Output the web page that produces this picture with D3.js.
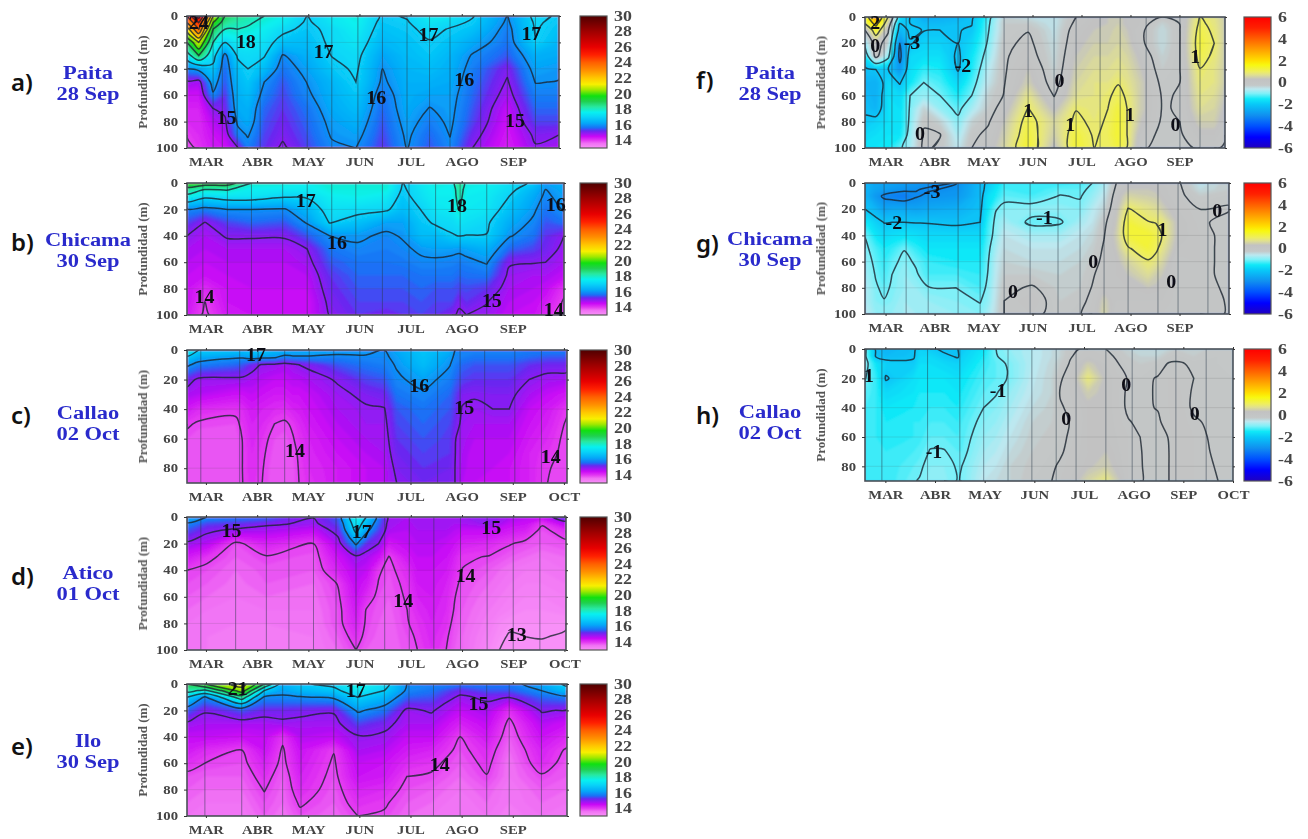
<!DOCTYPE html>
<html>
<head>
<meta charset="utf-8">
<script src="https://cdn.jsdelivr.net/npm/d3@7"></script>
<style>
  body { margin: 0; background: #fff; }
  text { font-family: "Liberation Serif", serif; font-weight: bold; }
</style>
</head>
<body>
<svg id="chart" width="1308" height="839"></svg>
<script>
var monthNames = ['MAR', 'ABR', 'MAY', 'JUN', 'JUL', 'AGO', 'SEP', 'OCT'];
var depths100 = [0, 5, 10, 20, 30, 40, 50, 60, 70, 80, 90, 100];
var depths90 = [0, 5, 10, 20, 30, 40, 50, 60, 70, 80, 90];

var tempStops = [13, 13.6, 14, 14.5, 15.2, 15.6, 16.2, 17, 17.6, 18.3, 19, 19.7, 20.5, 21.2, 22, 23, 24, 25, 26, 28, 30];
var tempColors = ['#f890f8', '#f070f4', '#e338f2', '#c808f6', '#6a28f0', '#1a70f6', '#04a8f8', '#08d4f8', '#08f0f0', '#28e8a0', '#20d050', '#10e010', '#a0e800', '#f8f000', '#ffc800', '#ff9000', '#ff6000', '#ff2000', '#e80000', '#a00000', '#500000'];
var anomStops = [-6, -5, -4, -3, -2, -1.5, -1, -0.6, -0.25, 0.3, 0.7, 1, 1.6, 2, 3, 4, 5, 6];
var anomColors = ['#2000c0', '#0000ff', '#0050ff', '#1090f0', '#08c8f8', '#10e8f8', '#80f0f8', '#bce8f0', '#c4c8c8', '#c2c2c2', '#e0e090', '#eeee60', '#f8f810', '#ffe000', '#ffa000', '#ff6000', '#ff2000', '#ff0000'];
var tempTicks = [14, 16, 18, 20, 22, 24, 26, 28, 30];
var anomTicks = [-6, -4, -2, 0, 2, 4, 6];

// sampling times, in months after the MAR tick, and profile at each time
var paitaTempTimes = [-0.37, -0.14, 0.14, 0.37, 0.62, 0.82, 1.14, 1.5, 1.98, 2.46, 2.93, 3.45, 3.93, 4.37, 4.77, 5.21, 5.89, 6.44, 6.9];
var paitaTemp = [
  [24, 23, 21.5, 19, 17.5, 16, 14.9, 14.5, 14.3, 14.2, 14.05, 13.8],
  [26.5, 25, 24, 21, 19, 16.2, 14.8, 14.5, 14.3, 14.2, 14.2, 14.1],
  [21, 20, 19, 18, 17.3, 16.8, 16.3, 15.9, 15, 14.7, 14.5, 14.4],
  [19, 18.5, 18, 17, 15.8, 15.6, 15.5, 15.3, 15.15, 14.9, 14.7, 14.5],
  [18.5, 18.2, 18, 17.5, 17.1, 16.7, 16.5, 16.4, 16.3, 16.1, 15.8, 14.95],
  [18.3, 18.1, 17.9, 17.5, 17.2, 17, 16.8, 16.6, 16.4, 16.3, 16.05, 15.8],
  [18, 17.8, 17.6, 17.3, 17.05, 16.6, 16, 15.8, 15.6, 15.5, 15.4, 15.3],
  [17.7, 17.5, 17.2, 16.7, 15.95, 15.7, 15.5, 15.4, 15.3, 15.2, 15.1, 14.9],
  [17, 16.9, 16.8, 16.6, 16.4, 16.2, 16.02, 15.9, 15.7, 15.6, 15.5, 15.4],
  [17.5, 17.4, 17.2, 17.15, 17.02, 16.8, 16.5, 16.4, 16.3, 16.15, 16.05, 15.9],
  [17.8, 17.7, 17.6, 17.4, 17.2, 17.1, 17, 16.8, 16.6, 16.4, 16.2, 16],
  [16.9, 16.8, 16.7, 16.5, 16.2, 16, 15.9, 15.7, 15.6, 15.5, 15.4, 15.3],
  [17.05, 16.95, 16.85, 16.7, 16.6, 16.5, 16.4, 16.35, 16.3, 16.2, 16.1, 16.02],
  [17.6, 17.4, 17.2, 16.95, 16.8, 16.6, 16.4, 16.2, 15.98, 15.8, 15.6, 15.5],
  [17.5, 17.2, 16.95, 16.7, 16.5, 16.4, 16.3, 16.2, 16.15, 16.1, 16.02, 15.9],
  [17.05, 16.9, 16.7, 16.3, 15.95, 15.8, 15.7, 15.6, 15.5, 15.4, 15.2, 15],
  [16, 15.9, 15.8, 15.7, 15.5, 15.1, 14.95, 14.8, 14.6, 14.5, 14.4, 14.3],
  [17.2, 17.1, 17.05, 16.97, 16.4, 16.2, 16.02, 15.8, 15.6, 15.4, 15.1, 14.95],
  [16.9, 16.8, 16.7, 16.5, 16.3, 16.1, 15.98, 15.8, 15.6, 15.4, 15, 14.8]
];

var chicamaTempTimes = [-0.37, -0.02, 0.42, 0.9, 1.54, 1.98, 2.42, 2.97, 3.53, 3.85, 4.21, 4.49, 4.81, 4.95, 5.09, 5.49, 5.93, 6.4, 6.64, 7];
var chicamaTemp = [
  [20, 18.4, 17.8, 15.9, 15.4, 15, 14.8, 14.7, 14.6, 14.5, 14.5, 14.4],
  [19.5, 18, 17.2, 15.8, 14.98, 14.8, 14.7, 14.6, 14.5, 14.2, 14, 13.9],
  [19.5, 18.05, 17.4, 16, 15.4, 15.05, 14.8, 14.7, 14.6, 14.5, 14.5, 14.4],
  [18, 17.6, 17.4, 16, 15.6, 15.05, 14.8, 14.7, 14.6, 14.6, 14.5, 14.5],
  [17.9, 17.5, 17.1, 15.95, 15.5, 15.05, 14.8, 14.7, 14.6, 14.6, 14.5, 14.5],
  [17.7, 17.5, 17.1, 16.5, 16.05, 15.5, 15, 14.85, 14.7, 14.6, 14.5, 14.5],
  [17.9, 17.8, 17.6, 17.3, 17.03, 16, 15.7, 15.5, 15.3, 15.2, 15.1, 15.02],
  [17.9, 17.8, 17.7, 17.2, 16.7, 16.1, 15.9, 15.7, 15.6, 15.5, 15.4, 15.3],
  [17.9, 17.8, 17.5, 17.1, 16.2, 15.9, 15.8, 15.7, 15.6, 15.5, 15.4, 15.2],
  [17, 16.9, 16.8, 16.6, 16.2, 16.05, 15.9, 15.75, 15.6, 15.5, 15.4, 15.3],
  [17.5, 17.4, 17.3, 17.02, 16.8, 16.6, 16.1, 15.9, 15.7, 15.6, 15.5, 15.4],
  [17.8, 17.7, 17.6, 17.4, 17.1, 16.6, 16.2, 15.9, 15.7, 15.5, 15.4, 15.3],
  [17.7, 17.6, 17.6, 17.5, 17.2, 16.95, 16.15, 15.85, 15.7, 15.5, 15.4, 15.1],
  [18.6, 18.4, 18.3, 18.05, 17.4, 17.02, 16.1, 15.8, 15.6, 15.4, 15.1, 14.9],
  [17.8, 17.7, 17.6, 17.5, 17.3, 16.98, 16.2, 15.85, 15.65, 15.45, 15.3, 15],
  [17.7, 17.6, 17.5, 17.4, 17.1, 16.98, 16.4, 16.05, 15.7, 15.3, 15.02, 14.9],
  [17.3, 17.2, 17, 16.7, 16.35, 16.05, 15.6, 15.05, 14.9, 14.8, 14.7, 14.6],
  [16.9, 16.5, 16.3, 16.1, 15.9, 15.7, 15.4, 15.02, 14.8, 14.7, 14.6, 14.5],
  [16.2, 16, 15.9, 15.7, 15.5, 15.3, 15.2, 15, 14.8, 14.6, 14.4, 14.2],
  [16.4, 16.3, 16.2, 16.05, 15.7, 15, 14.9, 14.8, 14.6, 14.1, 13.95, 13.9]
];

var callaoTempTimes = [-0.37, -0.14, 0.58, 0.72, 0.9, 1.1, 1.34, 1.54, 1.7, 1.82, 2.02, 2.58, 3.13, 3.49, 3.73, 4.25, 4.77, 4.87, 5.01, 5.25, 5.61, 5.93, 6.32, 6.68, 7.06];
var callaoTemp = [
  [18, 16.8, 16.1, 15.2, 14.8, 14.4, 14.05, 13.9, 13.8, 13.8, 13.8],
  [17, 16.3, 15.8, 14.9, 14.7, 14.2, 13.95, 13.8, 13.8, 13.8, 13.8],
  [16.8, 16.05, 15.6, 14.9, 14.5, 14.1, 13.9, 13.8, 13.8, 13.8, 13.8],
  [16.7, 16.05, 15.5, 14.9, 14.5, 14.2, 14.1, 14.02, 14.01, 14.01, 14],
  [16.9, 16.2, 15.2, 14.8, 14.6, 14.4, 14.3, 14.25, 14.2, 14.2, 14.15],
  [17, 16.1, 14.95, 14.7, 14.5, 14.3, 14.2, 14.1, 14.05, 14.02, 14],
  [16.6, 16.05, 14.9, 14.6, 14.4, 14.2, 14, 13.9, 13.85, 13.8, 13.8],
  [16.5, 15.8, 14.8, 14.6, 14.4, 14.15, 13.95, 13.85, 13.8, 13.8, 13.8],
  [16.4, 15.9, 14.9, 14.7, 14.5, 14.3, 14.05, 13.98, 13.9, 13.85, 13.85],
  [16.4, 15.9, 15, 14.7, 14.5, 14.35, 14.2, 14.1, 14.05, 14.02, 14],
  [16.4, 15.9, 15.1, 14.8, 14.6, 14.5, 14.4, 14.3, 14.25, 14.2, 14.15],
  [16.3, 15.8, 15.5, 15.05, 14.9, 14.8, 14.7, 14.6, 14.5, 14.4, 14.4],
  [16.2, 15.9, 15.7, 15.4, 15.1, 14.95, 14.9, 14.8, 14.7, 14.6, 14.6],
  [16, 15.9, 15.8, 15.5, 15.2, 14.98, 14.9, 14.85, 14.8, 14.7, 14.7],
  [16.3, 16.15, 16.05, 15.9, 15.7, 15.5, 15.4, 15.3, 15.2, 15.1, 15],
  [16.8, 16.7, 16.6, 16.2, 15.9, 15.7, 15.6, 15.5, 15.4, 15.3, 15.2],
  [16.4, 16.15, 16.02, 15.8, 15.6, 15.5, 15.4, 15.35, 15.3, 15.2, 15.1],
  [16, 15.9, 15.8, 15.6, 15.4, 15.3, 15.2, 15.02, 15.01, 15, 15],
  [15.9, 15.8, 15.6, 15.4, 15.1, 14.97, 14.9, 14.85, 14.8, 14.75, 14.7],
  [15.9, 15.7, 15.5, 15.3, 15.05, 14.9, 14.8, 14.7, 14.6, 14.6, 14.6],
  [15.9, 15.7, 15.5, 15.3, 15.1, 15, 14.8, 14.7, 14.6, 14.6, 14.5],
  [15.9, 15.7, 15.5, 15.3, 15.1, 15, 14.8, 14.7, 14.6, 14.5, 14.5],
  [15.8, 15.6, 15.3, 15, 14.8, 14.6, 14.5, 14.4, 14.3, 14.3, 14.3],
  [15.8, 15.5, 15.2, 14.85, 14.6, 14.4, 14.3, 14.2, 14.1, 14.02, 14],
  [15.8, 15.5, 15.2, 14.8, 14.4, 14.05, 13.95, 13.9, 13.9, 13.9, 13.9]
];

var aticoTempTimes = [-0.37, 0.02, 0.58, 1.18, 2.1, 2.58, 2.93, 3.13, 3.37, 3.57, 3.93, 4.13, 4.41, 4.69, 4.85, 5.01, 5.53, 5.73, 5.93, 6.24, 6.56, 7.03];
var aticoTemp = [
  [16.5, 15.9, 15.5, 14.9, 14.4, 14, 13.9, 13.8, 13.7, 13.6, 13.6, 13.5],
  [16, 15.4, 15.1, 14.7, 14.1, 13.9, 13.8, 13.7, 13.6, 13.5, 13.5, 13.5],
  [15.8, 15.3, 14.9, 13.9, 13.8, 13.7, 13.65, 13.6, 13.5, 13.5, 13.4, 13.4],
  [15.7, 15.1, 14.8, 14.3, 13.97, 13.85, 13.8, 13.7, 13.6, 13.5, 13.4, 13.4],
  [15.02, 14.9, 14.6, 14, 13.85, 13.8, 13.7, 13.65, 13.6, 13.55, 13.5, 13.5],
  [15.6, 15.4, 15.2, 14.8, 14.5, 14.3, 14.02, 13.95, 13.9, 13.9, 13.8, 13.7],
  [17.8, 17.5, 17.2, 16.1, 14.9, 14.7, 14.6, 14.5, 14.4, 14.3, 14.15, 14],
  [17, 16.6, 16.2, 15.3, 14.8, 14.6, 14.4, 14.2, 13.98, 13.95, 13.9, 13.8],
  [15.8, 15.6, 15.4, 15, 14.5, 14.05, 13.98, 13.9, 13.85, 13.8, 13.75, 13.7],
  [14.9, 14.85, 14.8, 14.4, 13.98, 13.9, 13.85, 13.8, 13.75, 13.7, 13.7, 13.7],
  [14.8, 14.75, 14.7, 14.6, 14.4, 14.2, 14.1, 14.05, 14, 13.98, 13.9, 13.85],
  [14.9, 14.85, 14.8, 14.7, 14.6, 14.5, 14.4, 14.3, 14.2, 14.1, 14.05, 14],
  [14.9, 14.85, 14.8, 14.7, 14.6, 14.5, 14.45, 14.4, 14.35, 14.3, 14.25, 14.2],
  [14.9, 14.85, 14.8, 14.6, 14.5, 14.4, 14.3, 14.25, 14.2, 14.15, 14.05, 14],
  [14.9, 14.8, 14.7, 14.5, 14.3, 14.2, 14.1, 14.02, 13.98, 13.9, 13.85, 13.8],
  [14.9, 14.8, 14.6, 14.3, 14.05, 13.99, 13.9, 13.85, 13.8, 13.75, 13.7, 13.7],
  [14.9, 14.95, 14.6, 14.2, 13.98, 13.8, 13.7, 13.6, 13.5, 13.4, 13.3, 13.2],
  [14.9, 14.8, 14.5, 14.1, 13.9, 13.7, 13.6, 13.5, 13.4, 13.2, 13.1, 13],
  [14.8, 14.6, 14.4, 14.03, 13.8, 13.6, 13.5, 13.4, 13.3, 13.1, 12.95, 12.9],
  [14.7, 14.5, 14.3, 13.9, 13.7, 13.5, 13.4, 13.3, 13.2, 13.1, 13, 12.9],
  [14.6, 14.05, 13.9, 13.8, 13.6, 13.5, 13.4, 13.3, 13.2, 13.1, 13.02, 12.9],
  [15.5, 14.7, 14.2, 13.9, 13.7, 13.6, 13.5, 13.4, 13.3, 13.05, 12.95, 12.95]
];

var iloTempTimes = [-0.37, -0.02, 0.7, 1.14, 1.5, 1.84, 2.5, 2.97, 3.49, 3.93, 4.41, 4.97, 5.49, 5.93, 6.56, 7.06];
var iloTemp = [
  [19, 18.3, 17, 15.6, 14.9, 14.6, 14.4, 14.15, 13.9, 13.8, 13.7, 13.6],
  [20, 17.8, 15.9, 15.05, 14.8, 14.6, 14.2, 14, 13.8, 13.7, 13.6, 13.5],
  [21.5, 20.5, 18.5, 15.5, 14.8, 14.5, 14, 13.9, 13.8, 13.7, 13.6, 13.5],
  [19, 17, 15.9, 15.2, 14.8, 14.6, 14.5, 14.3, 14.15, 14.02, 13.9, 13.8],
  [16.5, 16.2, 15.9, 15.2, 14.9, 14.1, 13.95, 13.9, 13.8, 13.75, 13.7, 13.6],
  [16.9, 16.5, 15.95, 15.15, 14.85, 14.7, 14.5, 14.4, 14.3, 14.2, 14.05, 13.9],
  [17.2, 16.8, 16.1, 15.05, 14.85, 14.6, 14.02, 13.95, 13.9, 13.85, 13.8, 13.7],
  [17.9, 17.5, 17, 16.1, 15.4, 14.95, 14.8, 14.6, 14.5, 14.3, 14.15, 14],
  [17.3, 17, 16.5, 15.7, 15.15, 14.9, 14.7, 14.5, 14.4, 14.2, 14.05, 13.95],
  [16, 15.9, 15.6, 14.9, 14.8, 14.6, 14.4, 14.2, 14, 13.9, 13.8, 13.7],
  [15.9, 15.7, 15.5, 15.05, 14.8, 14.6, 14.3, 14.1, 13.95, 13.8, 13.7, 13.6],
  [15.8, 15.2, 14.9, 14.6, 14.3, 14, 13.9, 13.8, 13.7, 13.6, 13.5, 13.5],
  [15.8, 15.5, 15.1, 14.8, 14.6, 14.4, 14.2, 14.1, 13.98, 13.8, 13.7, 13.6],
  [15.8, 15.5, 15.02, 14.15, 13.9, 13.8, 13.7, 13.6, 13.6, 13.5, 13.5, 13.4],
  [16.3, 16, 15.6, 15.05, 14.7, 14.5, 14.3, 14.2, 13.95, 13.8, 13.7, 13.6],
  [17.2, 16.6, 15.8, 14.95, 14.5, 14.2, 13.95, 13.85, 13.8, 13.7, 13.6, 13.5]
];

var paitaAnomTimes = [-0.42, -0.2, 0.05, 0.29, 0.5, 0.78, 1.11, 1.48, 1.76, 2.09, 2.42, 2.91, 3.44, 3.89, 4.26, 4.54, 4.75, 4.93, 5.2, 5.65, 6.01, 6.42, 6.71, 6.93];
var paitaAnom = [
  [1.5, 1, 0, -0.8, -1.5, -2.1, -2.3, -2.2, -2.1, -1.9, -1.7, -1.5],
  [3, 2.3, 1.5, 0.3, 0.2, -2, -2.4, -2.4, -2.3, -1.8, -1.6, -1.5],
  [1, 0.5, 0.1, -0.3, -0.8, -1.98, -1.7, -1.6, -1.6, -1.6, -1.5, -1.4],
  [-1.5, -2, -2.3, -3, -3.2, -2.8, -2.05, -1.7, -1.6, -1.6, -1.5, -1.1],
  [-2, -2, -1.9, -2.05, -1.7, -1.6, -1.5, -1, -0.95, -0.9, -0.8, -0.7],
  [-2.5, -2.2, -2.02, -1.8, -1.6, -1.3, -1, -0.8, -0.3, -0.05, 0.05, 0.1],
  [-2.4, -2.2, -2, -1.8, -1.6, -1.4, -1.2, -1, -0.8, -0.3, 0.03, -0.1],
  [-2.3, -2.1, -2.02, -2, -2.1, -2.05, -1.7, -1.4, -1.1, -0.9, -0.7, -0.5],
  [-2.1, -2.02, -1.95, -1.7, -1.5, -1.4, -1.2, -1, -0.7, -0.3, -0.1, 0],
  [-1.2, -1.1, -1.05, -0.95, -0.8, -0.6, -0.5, -0.3, -0.2, -0.05, 0.1, 0.2],
  [-0.3, -0.2, -0.2, -0.1, -0.05, -0.05, -0.02, 0.02, 0.2, 0.4, 0.5, 0.6],
  [-0.4, -0.2, -0.02, 0.1, 0.2, 0.4, 0.5, 0.8, 1.02, 1.2, 1.3, 1.4],
  [-0.5, -0.5, -0.45, -0.4, -0.35, -0.3, -0.2, -0.02, 0.3, 0.6, 0.5, 0.3],
  [0, 0.1, 0.2, 0.3, 0.4, 0.5, 0.6, 0.7, 0.98, 1.1, 1.3, 1.4],
  [0.3, 0.35, 0.4, 0.5, 0.6, 0.7, 0.8, 0.8, 0.85, 0.9, 0.95, 1],
  [0.4, 0.4, 0.45, 0.5, 0.6, 0.7, 0.8, 0.95, 1, 1.05, 1.1, 1.02],
  [0.5, 0.5, 0.55, 0.6, 0.7, 0.8, 0.98, 1.1, 1.3, 1.4, 1.4, 1.3],
  [0.3, 0.3, 0.4, 0.5, 0.6, 0.7, 0.8, 0.95, 1, 1, 1, 0.98],
  [0.2, 0.2, 0.1, 0.1, 0.3, 0.4, 0.5, 0.5, 0.5, 0.4, 0.2, 0.05],
  [0, -0.3, -0.4, -0.4, -0.3, -0.2, -0.1, -0.03, -0.02, -0.05, -0.1, -0.1],
  [0.02, 0.01, 0, 0, 0, 0, 0, 0.02, 0.02, 0, -0.05, -0.2],
  [1.02, 1.1, 1.2, 1.3, 1.2, 0.98, 0.9, 0.8, 0.7, 0.5, 0.3, 0.1],
  [0.8, 0.85, 0.9, 1, 0.9, 0.8, 0.8, 0.7, 0.6, 0.5, 0.3, 0.1],
  [0.5, 0.5, 0.5, 0.5, 0.5, 0.5, 0.5, 0.4, 0.3, 0.2, 0.1, -0.1]
];

var chicamaAnomTimes = [-0.42, -0.2, -0.03, 0.13, 0.38, 0.62, 0.87, 1.44, 1.93, 2.09, 2.25, 2.42, 2.99, 3.56, 3.97, 4.22, 4.46, 4.71, 4.95, 5.36, 5.52, 5.65, 5.97, 6.42, 7.01];
var chicamaAnom = [
  [-2.2, -2.3, -2.3, -2, -1.4, -1.02, -0.9, -0.8, -0.7, -0.6, -0.6, -0.5],
  [-2.6, -2.6, -2.8, -2.3, -1.8, -1.5, -1.2, -1.1, -1.03, -0.95, -0.9, -0.8],
  [-2.6, -2.7, -3.1, -2.6, -2.02, -1.7, -1.4, -1.3, -1.2, -1.1, -0.98, -0.8],
  [-2.6, -2.8, -3.2, -2.5, -2, -1.6, -1.3, -1.1, -1, -0.95, -0.9, -0.8],
  [-2.7, -2.9, -3.3, -2.5, -2, -1.5, -1.02, -0.9, -0.8, -0.8, -0.7, -0.7],
  [-2.8, -2.98, -3.05, -2.6, -2.02, -1.6, -1.3, -1.05, -0.95, -0.8, -0.75, -0.7],
  [-2.9, -3.05, -2.9, -2.5, -2.03, -1.7, -1.5, -1.3, -1.2, -0.98, -0.8, -0.7],
  [-3.02, -2.9, -2.8, -2.4, -2.1, -1.7, -1.5, -1.4, -1.2, -1, -0.9, -0.8],
  [-2.2, -2.2, -2.2, -2.1, -2, -1.7, -1.5, -1.4, -1.3, -1.2, -1.02, -0.9],
  [-1.9, -1.8, -1.6, -1.5, -1.3, -1.2, -1.1, -1.03, -0.98, -0.9, -0.85, -0.7],
  [-1.6, -1.5, -1.4, -1.02, -0.9, -0.85, -0.7, -0.6, -0.55, -0.5, -0.45, -0.4],
  [-1.3, -1.2, -1.1, -0.9, -0.7, -0.5, -0.4, -0.3, -0.2, -0.1, 0, 0],
  [-1.3, -1.3, -1.2, -0.85, -1.1, -0.7, -0.5, -0.4, -0.2, 0.05, 0.2, 0.1],
  [-1.3, -1.1, -0.98, -0.85, -1.05, -0.7, -0.5, -0.4, -0.3, -0.25, -0.2, -0.15],
  [-1.2, -1.1, -1.03, -0.9, -0.7, -0.5, -0.4, -0.3, -0.25, -0.2, -0.1, -0.02],
  [-1, -0.9, -0.8, -0.6, -0.5, -0.35, -0.25, -0.15, -0.05, 0.02, 0.1, 0.15],
  [-0.7, -0.6, -0.5, -0.3, -0.1, -0.02, 0.05, 0.1, 0.2, 0.3, 0.5, 0.6],
  [0, 0.1, 0.2, 0.3, 0.4, 0.5, 0.4, 0.3, 0.3, 0.2, 0.2, 0.1],
  [0.3, 0.4, 0.6, 1.03, 1.3, 1.3, 0.95, 0.6, 0.4, 0.3, 0.2, 0.1],
  [0.3, 0.4, 0.5, 0.8, 1.02, 1.4, 1.3, 0.95, 0.7, 0.4, 0.2, 0.1],
  [0.3, 0.35, 0.45, 0.7, 0.98, 1.2, 1.1, 0.8, 0.5, 0.35, 0.2, 0.1],
  [0.2, 0.25, 0.3, 0.5, 0.9, 0.98, 0.8, 0.6, 0.4, 0.3, 0.2, 0.1],
  [0.05, 0.1, 0.1, 0.2, 0.3, 0.3, 0.2, 0.02, 0.02, 0.05, 0.02, 0],
  [-0.5, -0.4, -0.2, 0, 0.05, 0.1, 0.1, 0.1, 0.05, 0.1, 0.1, 0.1],
  [-0.2, -0.2, -0.05, 0.02, -0.1, -0.1, -0.1, -0.1, -0.05, -0.05, -0.02, -0.02]
];

var callaoAnomTimes = [-0.41, -0.19, 0.01, 0.57, 0.69, 0.9, 1.18, 1.46, 1.54, 1.98, 2.23, 2.51, 2.95, 3.35, 3.52, 3.72, 4.08, 4.44, 4.89, 5.13, 5.33, 5.49, 5.71, 5.85, 6.21, 6.7, 7];
var callaoAnom = [
  [-0.9, -0.9, -0.8, -0.98, -1.1, -1.2, -1.2, -1.2, -1.2, -1.2, -1.2],
  [-2.1, -2.05, -1.5, -1.3, -1.3, -1.3, -1.3, -1.3, -1.3, -1.3, -1.3],
  [-2.3, -2.2, -1.8, -2.05, -1.7, -1.5, -1.4, -1.4, -1.3, -1.3, -1.3],
  [-2.1, -2.05, -1.9, -1.6, -1.5, -1.4, -1.3, -1.3, -1.2, -1.1, -1.02],
  [-1.8, -1.7, -1.6, -1.5, -1.4, -1.35, -1.3, -1.25, -1.15, -1.05, -0.98],
  [-1.9, -1.7, -1.6, -1.5, -1.4, -1.3, -1.2, -1.1, -0.98, -0.9, -0.85],
  [-2.1, -1.9, -1.7, -1.5, -1.4, -1.3, -1.2, -1.1, -0.98, -0.9, -0.85],
  [-2, -2.05, -1.8, -1.6, -1.5, -1.4, -1.3, -1.2, -1.1, -1.03, -1.02],
  [-1.9, -1.8, -1.7, -1.5, -1.4, -1.3, -1.2, -1.15, -1.1, -1, -0.98],
  [-1.5, -1.4, -1.3, -1.2, -1.1, -1, -0.9, -0.8, -0.7, -0.6, -0.5],
  [-1, -1.02, -1.1, -1.1, -1.02, -0.9, -0.8, -0.7, -0.6, -0.5, -0.4],
  [-0.8, -0.85, -0.95, -0.97, -0.8, -0.7, -0.6, -0.5, -0.4, -0.3, -0.3],
  [-0.6, -0.6, -0.6, -0.55, -0.5, -0.4, -0.3, -0.25, -0.2, -0.15, -0.1],
  [-0.4, -0.4, -0.35, -0.3, -0.3, -0.25, -0.2, -0.15, -0.1, -0.05, 0],
  [-0.3, -0.3, -0.2, -0.03, 0.02, -0.03, -0.1, -0.1, -0.05, 0.05, 0.1],
  [-0.1, -0.03, 0.03, 0.1, 0.1, 0.05, 0.01, 0.05, 0.1, 0.15, 0.2],
  [0.1, 0.2, 0.5, 0.9, 0.5, 0.3, 0.3, 0.3, 0.3, 0.35, 0.6],
  [0, 0.1, 0.2, 0.3, 0.3, 0.3, 0.3, 0.3, 0.4, 0.5, 0.9],
  [-0.3, -0.2, -0.15, -0.02, -0.05, -0.05, 0.02, 0.1, 0.1, 0.1, 0.1],
  [-0.4, -0.3, -0.2, -0.1, -0.1, -0.1, -0.05, 0, 0.02, 0.03, 0.04],
  [-0.4, -0.3, -0.15, -0.02, -0.01, -0.01, -0.05, -0.1, -0.1, -0.1, -0.1],
  [-0.4, -0.3, -0.1, 0.02, 0.02, 0.01, -0.03, -0.08, -0.1, -0.1, -0.1],
  [-0.3, -0.1, 0.02, 0.1, 0.1, 0.1, 0.08, 0.01, 0, 0, 0],
  [-0.2, -0.05, 0.02, 0.1, 0.15, 0.2, 0.2, 0.2, 0.2, 0.2, 0.2],
  [-0.3, -0.2, -0.02, 0, -0.03, -0.05, 0.05, 0.1, 0.1, 0.1, 0.1],
  [-0.1, -0.1, -0.1, -0.1, -0.1, -0.1, -0.1, -0.08, -0.05, -0.02, 0],
  [-0.2, -0.2, -0.15, -0.1, -0.1, -0.1, -0.1, -0.1, -0.1, -0.1, -0.1]
];

// vertical lines of the sampling dates
var paitaTempLines = [0.14, 0.32, 0.61, 1.06, 1.5, 1.98, 2.46, 2.97, 3.45, 3.93, 4.37, 4.77, 5.37, 5.89, 6.44];
var chicamaTempLines = [-0.06, 0.42, 0.89, 1.5, 1.98, 2.46, 2.93, 3.45, 3.97, 4.49, 4.97, 5.49, 6, 6.56];
var callaoTempLines = [-0.1, 0.66, 1.02, 1.54, 2.02, 2.5, 3.01, 3.49, 4.01, 4.53, 4.97, 5.45, 6.04, 6.56];
var aticoTempLines = [-0.1, 0.58, 1.18, 1.62, 2.1, 2.54, 2.93, 3.49, 3.97, 4.45, 4.97, 5.49, 6, 6.52];
var iloTempLines = [-0.02, 0.7, 1.14, 1.5, 1.86, 2.5, 2.97, 3.49, 3.97, 4.45, 4.97, 5.49, 5.93, 6.56];
var paitaAnomLines = [-0.03, 0.13, 0.42, 0.87, 1.48, 2.05, 2.42, 2.91, 3.44, 3.89, 4.38, 4.79, 5.32, 6.01, 6.42];
var chicamaAnomLines = [-0.03, 0.42, 0.87, 1.48, 1.93, 2.42, 2.95, 3.52, 3.97, 4.46, 4.95, 5.56, 5.97, 6.58];
var callaoAnomLines = [-0.07, 0.85, 1.5, 1.98, 2.47, 2.95, 3.44, 3.84, 4.44, 4.97, 5.45, 5.85, 6.46];

// contour labels: text, month, depth
var paitaTempLabels = [['24', -0.14, 5], ['18', 0.78, 19], ['17', 2.3, 27], ['16', 3.33, 62], ['17', 4.35, 14], ['16', 5.05, 48], ['17', 6.36, 13], ['15', 0.4, 77], ['15', 6.04, 79]];
var chicamaTempLabels = [['17', 1.95, 13], ['16', 2.56, 45], ['18', 4.91, 17], ['16', 6.84, 16], ['15', 5.59, 89], ['14', -0.03, 86], ['14', 6.8, 96]];
var callaoTempLabels = [['17', 0.98, 3], ['16', 4.17, 24], ['15', 5.05, 39], ['14', 1.74, 68], ['14', 6.74, 72]];
var aticoTempLabels = [['15', 0.5, 10], ['17', 3.04, 11], ['15', 5.57, 8], ['14', 5.07, 44], ['14', 3.85, 63], ['13', 6.07, 88]];
var iloTempLabels = [['21', 0.62, 3], ['17', 2.93, 5], ['15', 5.33, 15], ['14', 4.57, 61]];
var paitaAnomLabels = [['2', -0.21, 4], ['0', -0.21, 22], ['-3', 0.54, 19], ['-2', 1.58, 37], ['0', 3.55, 48], ['1', 2.91, 71], ['1', 3.77, 82], ['1', 4.99, 74], ['0', 0.7, 89], ['0', 5.92, 82], ['1', 6.32, 30]];
var chicamaAnomLabels = [['-3', 0.95, 6], ['-2', 0.17, 30], ['-1', 3.24, 26], ['1', 5.65, 35], ['0', 6.77, 21], ['0', 4.24, 60], ['0', 5.83, 75], ['0', 2.6, 83]];
var callaoAnomLabels = [['1', -0.33, 18], ['-1', 2.27, 28], ['0', 4.85, 24], ['0', 3.64, 47], ['0', 6.23, 44], ['-1', 0.98, 70]];

var tempColor = d3.scaleLinear().domain(tempStops).range(tempColors).clamp(true);
var anomColor = d3.scaleLinear().domain(anomStops).range(anomColors).clamp(true);

var svg = d3.select('#chart');
var defs = svg.append('defs');
defs.append('filter').attr('id', 'soft').append('feGaussianBlur').attr('stdDeviation', 1.2);
defs.append('filter').attr('id', 'softer').append('feGaussianBlur').attr('stdDeviation', 0.45);
defs.append('filter').attr('id', 'softtext').append('feGaussianBlur').attr('stdDeviation', 0.3);

var stretch = 'scale(1.28,1)';
var isoLine = d3.line().curve(d3.curveCatmullRom.alpha(0.5));

function translateSVG(x, y) {
    return 'translate(' + x + ',' + y + ')';
}

function putText(g, x, y, s, size, fill, scale) {
    return g.append('text')
        .attr('transform', translateSVG(x, y) + (scale || stretch))
        .attr('text-anchor', 'middle')
        .attr('dy', '0.35em')
        .attr('font-size', size)
        .attr('fill', fill)
        .text(s);
}

// Cut a contour ring where it runs along the plot border, the frame covers those parts
function openRuns(ring, nx, ny) {
    var onEdge = function (q) { return q[0] <= 0 || q[0] >= nx || q[1] <= 0 || q[1] >= ny; };
    var n = ring.length - 1, start = -1, k;
    for (k = 0; k < n; k++) {
        if (onEdge(ring[k]) && onEdge(ring[k + 1])) { start = k + 1; break; }
    }
    if (start < 0) {
        // no border part, keep it closed
        return [ring.concat([ring[1], ring[2]])];
    }
    var runs = [], cur = [];
    for (k = 0; k < n; k++) {
        var a = ring[(start + k) % n], b = ring[(start + k + 1) % n];
        if (onEdge(a) && onEdge(b)) {
            if (cur.length > 1) { runs.push(cur); }
            cur = [];
        } else {
            if (!cur.length) { cur.push(a); }
            cur.push(b);
        }
    }
    if (cur.length > 1) { runs.push(cur); }
    return runs;
}

function drawPanel(p, idx) {
    var g = svg.append('g').attr('transform', translateSVG(p.x0, p.y0));
    var w = p.x1 - p.x0, h = p.y1 - p.y0;
    var color = p.color;
    var x = d3.scaleLinear().domain([p.times[0], p.times[p.times.length - 1]]).range([0, w]);
    var y = d3.scaleLinear().domain([0, d3.max(p.depths)]).range([0, h]);

    var clipId = 'clip' + idx;
    defs.append('clipPath').attr('id', clipId).append('rect').attr('width', w).attr('height', h);

    // contours work in cell units, cell i has its centre at i + 0.5
    var nx = p.times.length, ny = p.depths.length;
    var sx = d3.scaleLinear().domain(p.times.map(function (d, i) { return i + 0.5; })).range(p.times.map(x)).clamp(true);
    var sy = d3.scaleLinear().domain(p.depths.map(function (d, i) { return i + 0.5; })).range(p.depths.map(y)).clamp(true);
    var path = d3.geoPath(d3.geoTransform({
        point: function (a, b) { this.stream.point(sx(a), sy(b)); }
    }));

    var values = [];
    for (var j = 0; j < ny; j++) {
        for (var i = 0; i < nx; i++) {
            values.push(p.grid[i][j]);
        }
    }
    var contours = d3.contours().size([nx, ny]).smooth(true);

    var plot = g.append('g').attr('clip-path', 'url(#' + clipId + ')');
    var field = plot.append('g').attr('filter', 'url(#soft)');
    var low = d3.min(values), high = d3.max(values);
    field.append('rect').attr('x', -3).attr('y', -3).attr('width', w + 6).attr('height', h + 6).attr('fill', color(low));
    var levels = d3.range(Math.floor(low * 10), Math.ceil(high * 10) + 1).map(function (d) { return d / 10; });
    field.selectAll('path')
        .data(contours.thresholds(levels)(values))
        .enter().append('path')
        .attr('d', path)
        .attr('fill', function (d) { return color(d.value); });

    // faint depth grid and sampling lines
    var depthTicks = d3.range(0, d3.max(p.depths) + 1, 20);
    plot.selectAll('line.depth')
        .data(depthTicks.slice(1))
        .enter().append('line')
        .attr('class', 'depth')
        .attr('x1', 0).attr('x2', w)
        .attr('y1', y).attr('y2', y)
        .attr('stroke', '#444').attr('stroke-opacity', 0.14);
    plot.selectAll('line.sample')
        .data(p.lines)
        .enter().append('line')
        .attr('class', 'sample')
        .attr('x1', x).attr('x2', x)
        .attr('y1', 0).attr('y2', h)
        .attr('stroke', '#2a3a4a').attr('stroke-opacity', 0.5).attr('stroke-width', 1);

    // isolines, smoothed through the ring points
    var isoRuns = [];
    contours.thresholds(p.isolines)(values).forEach(function (c) {
        c.coordinates.forEach(function (poly) {
            poly.forEach(function (ring) {
                openRuns(ring, nx, ny).forEach(function (run) {
                    isoRuns.push(run.map(function (q) { return [sx(q[0]), sy(q[1])]; }));
                });
            });
        });
    });
    plot.append('g').attr('filter', 'url(#softer)')
        .selectAll('path')
        .data(isoRuns)
        .enter().append('path')
        .attr('d', isoLine)
        .attr('fill', 'none')
        .attr('stroke', '#1c2430')
        .attr('stroke-opacity', 0.8)
        .attr('stroke-width', 1.5);

    // frame and axes
    g.append('rect').attr('width', w).attr('height', h)
        .attr('fill', 'none').attr('stroke', '#4a5058').attr('stroke-width', 1.6);

    var monthTicks = d3.range(p.nMonths);
    var bottom = g.append('g').attr('transform', translateSVG(0, h))
        .attr('filter', 'url(#softtext)')
        .call(d3.axisBottom(x).tickValues(monthTicks).tickSize(2).tickFormat(function (i) { return monthNames[i]; }));
    var left = g.append('g')
        .attr('filter', 'url(#softtext)')
        .call(d3.axisLeft(y).tickValues(depthTicks).tickSize(3));
    g.append('g').call(d3.axisTop(x).tickValues(monthTicks).tickSize(2).tickFormat(''));
    g.append('g').attr('transform', translateSVG(w, 0))
        .call(d3.axisRight(y).tickValues(depthTicks).tickSize(2).tickFormat(''));
    g.selectAll('.domain').remove();
    g.selectAll('.tick line').attr('stroke', '#333');
    bottom.selectAll('text')
        .attr('y', 0).attr('dy', '0.35em')
        .attr('transform', translateSVG(0, 14) + stretch)
        .attr('font-size', 11.5).attr('fill', '#444');
    left.selectAll('text')
        .attr('x', -7)
        .attr('transform', stretch)
        .attr('font-size', 11.5).attr('fill', '#444');

    g.append('text')
        .attr('transform', translateSVG(p.titleX - p.x0, h / 2) + 'rotate(-90)')
        .attr('filter', 'url(#softtext)')
        .attr('text-anchor', 'middle')
        .attr('font-size', 13).attr('fill', '#555')
        .text('Profundidad (m)');

    // contour value labels
    var labelLayer = g.append('g').attr('filter', 'url(#softer)');
    p.labels.forEach(function (d) {
        putText(labelLayer, x(d[1]), y(d[2]), d[0], 19, '#0c0c14', 'scale(1.05,1)');
    });

    // station and date
    var station = svg.append('g').attr('filter', 'url(#softtext)');
    putText(station, p.nameX, p.nameY, p.name, 18, '#2a2ccc', 'scale(1.25,1)');
    putText(station, p.nameX, p.nameY + 21, p.date, 18, '#2a2ccc', 'scale(1.25,1)');

    svg.append('text')
        .attr('transform', translateSVG(p.tagX, p.tagY))
        .attr('dy', '0.35em')
        .style('font-family', '"Noto Sans", sans-serif')
        .style('font-weight', 600)
        .attr('font-size', 24)
        .attr('fill', '#111')
        .text(p.tag);

    // color bar
    var barX = p.barX, barW = 27;
    var dom = p.barDomain;
    var by = d3.scaleLinear().domain([dom[0], dom[1]]).range([p.y1, p.y0]);
    var gradId = 'bar' + idx;
    var grad = defs.append('linearGradient').attr('id', gradId)
        .attr('x1', 0).attr('y1', 1).attr('x2', 0).attr('y2', 0);
    p.stops.forEach(function (v) {
        grad.append('stop')
            .attr('offset', (v - dom[0]) / (dom[1] - dom[0]))
            .attr('stop-color', color(v));
    });
    var bar = svg.append('g');
    bar.append('rect')
        .attr('x', barX).attr('width', barW)
        .attr('y', p.y0).attr('height', p.y1 - p.y0)
        .attr('fill', 'url(#' + gradId + ')')
        .attr('stroke', '#555').attr('stroke-width', 1.2);
    var barLabels = bar.append('g').attr('filter', 'url(#softtext)');
    p.barTicks.forEach(function (t) {
        barLabels.append('text')
            .attr('transform', translateSVG(barX + barW + 7, by(t)) + stretch)
            .attr('dy', '0.35em')
            .attr('font-size', 14)
            .attr('fill', '#444')
            .text(t);
    });
}

var panels = [
    {tag: 'a)', name: 'Paita', date: '28 Sep', grid: paitaTemp, times: paitaTempTimes, lines: paitaTempLines, labels: paitaTempLabels, depths: depths100, x0: 187, x1: 559, y0: 16, y1: 148, nMonths: 7, nameY: 73, tagY: 83},
    {tag: 'b)', name: 'Chicama', date: '30 Sep', grid: chicamaTemp, times: chicamaTempTimes, lines: chicamaTempLines, labels: chicamaTempLabels, depths: depths100, x0: 187, x1: 564, y0: 183, y1: 315, nMonths: 7, nameY: 240, tagY: 243},
    {tag: 'c)', name: 'Callao', date: '02 Oct', grid: callaoTemp, times: callaoTempTimes, lines: callaoTempLines, labels: callaoTempLabels, depths: depths90, x0: 187, x1: 567, y0: 350, y1: 483, nMonths: 8, nameY: 413, tagY: 416},
    {tag: 'd)', name: 'Atico', date: '01 Oct', grid: aticoTemp, times: aticoTempTimes, lines: aticoTempLines, labels: aticoTempLabels, depths: depths100, x0: 187, x1: 566, y0: 517, y1: 650, nMonths: 8, nameY: 573, tagY: 577},
    {tag: 'e)', name: 'Ilo', date: '30 Sep', grid: iloTemp, times: iloTempTimes, lines: iloTempLines, labels: iloTempLabels, depths: depths100, x0: 187, x1: 567, y0: 684, y1: 816, nMonths: 7, nameY: 741, tagY: 747},
    {tag: 'f)', name: 'Paita', date: '28 Sep', grid: paitaAnom, times: paitaAnomTimes, lines: paitaAnomLines, labels: paitaAnomLabels, depths: depths100, x0: 865, x1: 1225, y0: 17, y1: 148, nMonths: 7, nameY: 73, tagY: 81},
    {tag: 'g)', name: 'Chicama', date: '30 Sep', grid: chicamaAnom, times: chicamaAnomTimes, lines: chicamaAnomLines, labels: chicamaAnomLabels, depths: depths100, x0: 865, x1: 1229, y0: 183, y1: 314, nMonths: 7, nameY: 239, tagY: 244},
    {tag: 'h)', name: 'Callao', date: '02 Oct', grid: callaoAnom, times: callaoAnomTimes, lines: callaoAnomLines, labels: callaoAnomLabels, depths: depths90, x0: 865, x1: 1233, y0: 349, y1: 481, nMonths: 8, nameY: 412, tagY: 416}
];

panels.forEach(function (p, i) {
    var isTemp = i < 5;
    p.color = isTemp ? tempColor : anomColor;
    p.stops = isTemp ? tempStops : anomStops;
    p.isolines = isTemp ? d3.range(13, 30) : d3.range(-5, 6);
    p.barDomain = isTemp ? [13, 30] : [-6, 6];
    p.barTicks = isTemp ? tempTicks : anomTicks;
    p.barX = isTemp ? 580 : 1244;
    p.titleX = isTemp ? 147 : 825;
    p.nameX = isTemp ? 88 : 770;
    p.tagX = isTemp ? 11 : 696;
    drawPanel(p, i);
});
</script>
</body>
</html>
